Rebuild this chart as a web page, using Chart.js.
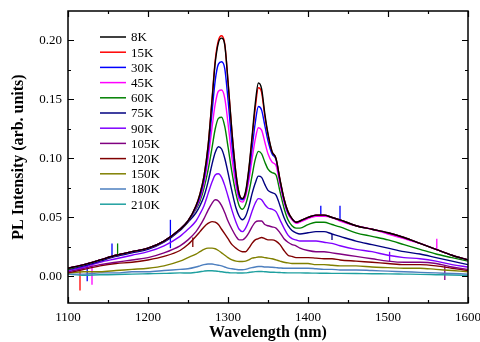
<!DOCTYPE html>
<html>
<head>
<meta charset="utf-8">
<script src="https://cdn.jsdelivr.net/npm/chart.js@4.4.1/dist/chart.umd.min.js"></script>
<style>
  html, body { margin: 0; padding: 0; background: #fff; }
</style>
</head>
<body>
<canvas id="plChart" width="480" height="342"></canvas>
<script>
// PL spectra vs temperature - drawn with Chart.js

// Wavelength grid (nm) shared by every spectrum
const wavelengths = [1100, 1120, 1140, 1160, 1180, 1200, 1220, 1240, 1250, 1260,
  1265, 1270, 1275, 1280, 1284, 1288, 1292, 1296, 1300,
  1305, 1310, 1314, 1318, 1322, 1326, 1330, 1334, 1338, 1342, 1346, 1350,
  1355, 1360, 1365, 1370, 1375, 1380, 1385, 1390,
  1400, 1410, 1420, 1430, 1440,
  1460, 1480, 1500, 1520, 1540, 1560, 1580, 1600];

// Temperatures (legend labels)
const temperatures = ['8K', '15K', '30K', '45K', '60K', '75K', '90K', '105K', '120K', '150K', '180K', '210K'];

// PL intensity (arb. units), one array per temperature
const pl8K = [0.007, 0.010, 0.014, 0.018, 0.021, 0.024, 0.030, 0.040, 0.047, 0.060,
  0.070, 0.085, 0.110, 0.149, 0.181, 0.198, 0.202, 0.196, 0.165,
  0.122, 0.087, 0.070, 0.066, 0.072, 0.091, 0.118, 0.146, 0.164, 0.159, 0.138, 0.121,
  0.106, 0.100, 0.082, 0.066, 0.055, 0.049, 0.046, 0.047,
  0.050, 0.052, 0.052, 0.050, 0.048,
  0.043, 0.040, 0.037, 0.033, 0.028, 0.023, 0.018, 0.014];
const pl15K = [0.007, 0.010, 0.014, 0.018, 0.021, 0.024, 0.030, 0.040, 0.047, 0.060,
  0.070, 0.085, 0.110, 0.150, 0.183, 0.200, 0.204, 0.197, 0.166,
  0.122, 0.087, 0.070, 0.066, 0.071, 0.090, 0.116, 0.142, 0.160, 0.156, 0.136, 0.120,
  0.106, 0.100, 0.082, 0.066, 0.055, 0.049, 0.046, 0.047,
  0.050, 0.052, 0.052, 0.050, 0.048,
  0.043, 0.040, 0.037, 0.033, 0.028, 0.023, 0.018, 0.014];
const pl30K = [0.007, 0.010, 0.014, 0.018, 0.021, 0.024, 0.030, 0.040, 0.047, 0.059,
  0.068, 0.082, 0.105, 0.139, 0.166, 0.180, 0.182, 0.176, 0.150,
  0.112, 0.083, 0.068, 0.065, 0.070, 0.086, 0.108, 0.130, 0.144, 0.141, 0.128, 0.115,
  0.104, 0.099, 0.081, 0.065, 0.054, 0.049, 0.046, 0.047,
  0.050, 0.052, 0.052, 0.050, 0.048,
  0.043, 0.040, 0.037, 0.033, 0.028, 0.023, 0.018, 0.014];
const pl45K = [0.007, 0.010, 0.014, 0.018, 0.021, 0.024, 0.030, 0.040, 0.047, 0.058,
  0.066, 0.079, 0.099, 0.126, 0.146, 0.157, 0.158, 0.151, 0.130,
  0.100, 0.077, 0.065, 0.063, 0.068, 0.081, 0.099, 0.116, 0.126, 0.124, 0.114, 0.104,
  0.097, 0.094, 0.078, 0.063, 0.053, 0.048, 0.045, 0.046,
  0.049, 0.051, 0.051, 0.050, 0.047,
  0.043, 0.040, 0.036, 0.032, 0.028, 0.023, 0.018, 0.014];
const pl60K = [0.006, 0.010, 0.014, 0.018, 0.021, 0.024, 0.030, 0.040, 0.047, 0.057,
  0.064, 0.075, 0.090, 0.109, 0.125, 0.134, 0.135, 0.127, 0.110,
  0.088, 0.070, 0.060, 0.057, 0.061, 0.071, 0.085, 0.099, 0.106, 0.104, 0.097, 0.091,
  0.088, 0.086, 0.072, 0.058, 0.048, 0.043, 0.041, 0.041,
  0.044, 0.046, 0.046, 0.044, 0.042,
  0.037, 0.034, 0.031, 0.027, 0.023, 0.019, 0.016, 0.013];
const pl75K = [0.006, 0.009, 0.013, 0.017, 0.020, 0.023, 0.029, 0.039, 0.046, 0.054,
  0.060, 0.068, 0.080, 0.095, 0.105, 0.110, 0.108, 0.100, 0.088,
  0.072, 0.058, 0.051, 0.048, 0.051, 0.059, 0.070, 0.079, 0.085, 0.084, 0.078, 0.073,
  0.071, 0.069, 0.060, 0.050, 0.043, 0.039, 0.037, 0.036,
  0.037, 0.038, 0.038, 0.036, 0.034,
  0.030, 0.027, 0.024, 0.021, 0.019, 0.016, 0.013, 0.010];
const pl90K = [0.005, 0.008, 0.012, 0.015, 0.018, 0.021, 0.026, 0.034, 0.040, 0.047,
  0.053, 0.060, 0.070, 0.080, 0.086, 0.087, 0.084, 0.077, 0.068,
  0.056, 0.046, 0.040, 0.038, 0.041, 0.047, 0.055, 0.062, 0.066, 0.065, 0.061, 0.058,
  0.057, 0.055, 0.048, 0.041, 0.035, 0.032, 0.031, 0.030,
  0.030, 0.030, 0.029, 0.028, 0.026,
  0.023, 0.021, 0.018, 0.016, 0.015, 0.013, 0.010, 0.008];
const pl105K = [0.004, 0.007, 0.010, 0.012, 0.014, 0.016, 0.020, 0.026, 0.031, 0.038,
  0.043, 0.049, 0.056, 0.062, 0.065, 0.064, 0.060, 0.054, 0.047,
  0.040, 0.034, 0.031, 0.031, 0.033, 0.037, 0.042, 0.046, 0.047, 0.047, 0.044, 0.043,
  0.042, 0.041, 0.037, 0.032, 0.029, 0.027, 0.026, 0.024,
  0.022, 0.021, 0.021, 0.020, 0.019,
  0.017, 0.015, 0.013, 0.012, 0.012, 0.011, 0.008, 0.006];
const pl120K = [0.003, 0.006, 0.009, 0.011, 0.012, 0.014, 0.017, 0.022, 0.027, 0.034,
  0.038, 0.042, 0.045, 0.0465, 0.046, 0.044, 0.040, 0.036, 0.032,
  0.027, 0.024, 0.022, 0.021, 0.021, 0.024, 0.028, 0.031, 0.032, 0.033, 0.032, 0.031,
  0.031, 0.030, 0.027, 0.022, 0.018, 0.017, 0.016, 0.016,
  0.016, 0.0155, 0.015, 0.015, 0.014,
  0.013, 0.012, 0.011, 0.010, 0.010, 0.009, 0.007, 0.005];
const pl150K = [0.003, 0.004, 0.004, 0.005, 0.006, 0.007, 0.009, 0.013, 0.016, 0.019,
  0.021, 0.023, 0.024, 0.024, 0.0235, 0.022, 0.020, 0.018, 0.016,
  0.014, 0.013, 0.0127, 0.0127, 0.013, 0.014, 0.0155, 0.016, 0.0165, 0.0165, 0.016, 0.0155,
  0.015, 0.014, 0.013, 0.012, 0.0115, 0.011, 0.011, 0.011,
  0.011, 0.010, 0.010, 0.0095, 0.009,
  0.009, 0.008, 0.0075, 0.007, 0.007, 0.006, 0.005, 0.004];
const pl180K = [0.002, 0.002, 0.003, 0.003, 0.004, 0.004, 0.005, 0.006, 0.0065, 0.008,
  0.009, 0.010, 0.0105, 0.0105, 0.010, 0.0095, 0.009, 0.008, 0.007,
  0.0065, 0.006, 0.0057, 0.0057, 0.006, 0.0068, 0.0075, 0.008, 0.0085, 0.0085, 0.008, 0.008,
  0.0078, 0.0075, 0.0072, 0.007, 0.007, 0.007, 0.007, 0.007,
  0.007, 0.0065, 0.006, 0.006, 0.0055,
  0.0055, 0.005, 0.0045, 0.004, 0.0035, 0.003, 0.0025, 0.002];
const pl210K = [0.002, 0.001, 0.0014, 0.0016, 0.002, 0.0023, 0.0026, 0.003, 0.0029, 0.0035,
  0.004, 0.0045, 0.0048, 0.0048, 0.0046, 0.0043, 0.004, 0.0036, 0.0033,
  0.003, 0.003, 0.0029, 0.0029, 0.003, 0.0034, 0.0038, 0.0041, 0.0042, 0.0042, 0.004, 0.0038,
  0.0036, 0.0035, 0.0033, 0.0031, 0.003, 0.003, 0.003, 0.003,
  0.0029, 0.0028, 0.0027, 0.0026, 0.0026,
  0.0025, 0.0023, 0.0022, 0.002, 0.0018, 0.0015, 0.0012, 0.001];

const spectra = [pl8K, pl15K, pl30K, pl45K, pl60K, pl75K, pl90K, pl105K, pl120K, pl150K, pl180K, pl210K];

// Narrow detector spikes: which spectrum, wavelength, start and end intensity
const spikeTemps = ['15K', '30K', '45K', '30K', '60K', '30K', '120K', '30K', '30K', '45K', '75K', '90K', '105K'];
const spikeWl = [1115, 1124, 1130, 1155, 1162, 1228, 1256, 1416, 1440, 1561, 1430, 1502, 1571];
const spikeFrom = [0.008, 0.010, 0.011, 0.016, 0.018, 0.024, 0.025, 0.052, 0.048, 0.023, 0.036, 0.021, 0.009];
const spikeTo = [-0.012, -0.004, -0.007, 0.028, 0.028, 0.048, 0.033, 0.060, 0.060, 0.032, 0.031, 0.013, -0.003];

// Axis ticks
const xTicks = [1100, 1200, 1300, 1400, 1500, 1600];
const xMinorTicks = [1150, 1250, 1350, 1450, 1550];
const yTicks = [0, 0.05, 0.10, 0.15, 0.20];
const yMinorTicks = [0.025, 0.075, 0.125, 0.175];

// Line colours, one per temperature
const lineColors = ['#000000', '#ff0000', '#0000ff', '#ff00ff', '#008000', '#000080',
  '#8000ff', '#800080', '#800000', '#808000', '#4d7fbf', '#1fa0a0'];

const serif = "'Liberation Serif', 'Times New Roman', serif";

// Frame, inward ticks on all four sides and the in-plot legend
const framePlugin = {
  id: 'frame',
  afterDraw(chart) {
    const { ctx, chartArea: a, scales } = chart;
    ctx.save();
    ctx.strokeStyle = '#000';
    ctx.lineWidth = 1.5;
    ctx.strokeRect(a.left, a.top, a.right - a.left, a.bottom - a.top);

    ctx.lineWidth = 1.2;
    ctx.beginPath();
    const xTick = (v, len) => {
      const px = Math.round(scales.x.getPixelForValue(v)) + 0.5;
      ctx.moveTo(px, a.bottom); ctx.lineTo(px, a.bottom - len);
      ctx.moveTo(px, a.top); ctx.lineTo(px, a.top + len);
    };
    const yTick = (v, len) => {
      const py = Math.round(scales.y.getPixelForValue(v)) + 0.5;
      ctx.moveTo(a.left, py); ctx.lineTo(a.left + len, py);
      ctx.moveTo(a.right, py); ctx.lineTo(a.right - len, py);
    };
    xTicks.forEach(v => xTick(v, 6));
    xMinorTicks.forEach(v => xTick(v, 3));
    yTicks.forEach(v => yTick(v, 6));
    yMinorTicks.forEach(v => yTick(v, 3));
    ctx.stroke();

    // Legend (main spectra only)
    ctx.font = '13px ' + serif;
    ctx.textAlign = 'left';
    ctx.textBaseline = 'middle';
    temperatures.forEach((t, i) => {
      const y = 37 + i * 15.2;
      ctx.strokeStyle = lineColors[i];
      ctx.lineWidth = 1.5;
      ctx.beginPath();
      ctx.moveTo(100, y);
      ctx.lineTo(126, y);
      ctx.stroke();
      ctx.fillStyle = '#000';
      ctx.fillText(t, 131, y + 1);
    });
    ctx.restore();
  }
};

const datasets = temperatures.map((t, i) => ({
  label: t,
  data: wavelengths.map((w, j) => ({ x: w, y: spectra[i][j] })),
  borderColor: lineColors[i],
  borderWidth: 1.4,
  pointRadius: 0,
  fill: false,
  cubicInterpolationMode: 'monotone'
}));

// Spikes as short vertical segments in the colour of their spectrum
spikeWl.forEach((w, k) => {
  datasets.push({
    label: spikeTemps[k] + ' spike',
    data: [{ x: w, y: spikeFrom[k] }, { x: w, y: spikeTo[k] }],
    borderColor: lineColors[temperatures.indexOf(spikeTemps[k])],
    borderWidth: 1.3,
    pointRadius: 0,
    fill: false
  });
});

new Chart(document.getElementById('plChart'), {
  type: 'line',
  data: { datasets },
  options: {
    responsive: false,
    animation: false,
    layout: { padding: { top: 11, right: 12, left: 0, bottom: 0 } },
    plugins: {
      legend: { display: false },
      tooltip: { enabled: false }
    },
    scales: {
      x: {
        type: 'linear',
        min: 1100,
        max: 1600,
        afterBuildTicks: (scale) => { scale.ticks = xTicks.map(v => ({ value: v })); },
        afterFit: (scale) => { scale.height = 39; scale.paddingLeft = 0; scale.paddingRight = 0; },
        grid: { display: false, drawTicks: false },
        border: { display: false },
        ticks: {
          padding: 7,
          color: '#000',
          font: { family: serif, size: 13 },
          maxRotation: 0,
          callback: (v) => String(v)
        },
        title: {
          display: true,
          text: 'Wavelength (nm)',
          color: '#000',
          padding: 0,
          font: { family: serif, size: 16, weight: 'bold' }
        }
      },
      y: {
        min: -0.0225,
        max: 0.225,
        afterBuildTicks: (scale) => { scale.ticks = yTicks.map(v => ({ value: v })); },
        afterFit: (scale) => { scale.width = 68; scale.paddingTop = 0; scale.paddingBottom = 0; },
        grid: { display: false, drawTicks: false },
        border: { display: false },
        ticks: {
          padding: 6,
          color: '#000',
          font: { family: serif, size: 13 },
          callback: (v) => v.toFixed(2)
        },
        title: {
          display: true,
          text: 'PL Intensity (arb. units)',
          color: '#000',
          padding: { top: 9, bottom: 0 },
          font: { family: serif, size: 16, weight: 'bold' }
        }
      }
    }
  },
  plugins: [framePlugin]
});
</script>
</body>
</html>
